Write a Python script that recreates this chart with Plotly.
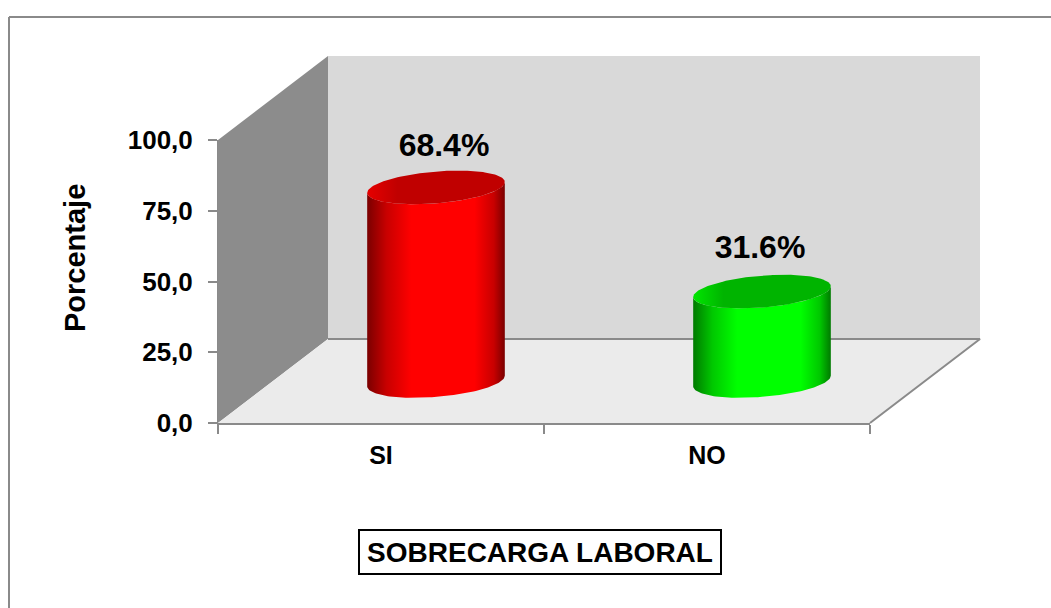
import numpy as np
import plotly.graph_objects as go

categories = ["SI", "NO"]
percent = [68.4, 31.6]
value_text = ["68.4%", "31.6%"]
y_ticks = [0, 25, 50, 75, 100]
body_colors = ["#ff0000", "#00ff00"]
edge_colors = ["#7a0000", "#007a00"]
shade_colors = ["#c80000", "#00c800"]
top_colors = ["#c00000", "#00b400"]
top_rim_colors = ["#e60000", "#00e600"]

W, H = 1051, 608
X0, X1, Y0, Y100 = 218, 870, 423, 140
PX_X = (X1 - X0) / 2.0      # pixels per category
PX_Y = (Y0 - Y100) / 100.0  # pixels per percent
DEPTH_X = 110 / PX_X        # floor depth, in axis units
DEPTH_Y = 84 / PX_Y
GREY = "#8a8a8a"
FONT = "Liberation Sans, Arial, sans-serif"


def poly(xs, ys, color=None, **kw):
    return go.Scatter(x=xs, y=ys, mode="lines", fill="toself", fillcolor=color, line=dict(width=0),
                      hoverinfo="skip", showlegend=False, **kw)


def ring(cx, cy, t):
    # circle lying on the floor plane, projected
    r_x, r_d = 0.2, 0.2
    return cx + r_x * np.cos(t) + r_d * DEPTH_X * np.sin(t), cy + r_d * DEPTH_Y * np.sin(t)


def cylinder(i, value):
    cx = i + 0.5 + 0.5 * DEPTH_X
    cy = 0.5 * DEPTH_Y
    t_right = np.arctan2(0.2 * DEPTH_X, 0.2)
    # lower half of the base from the right silhouette round to the left one, then back over the top
    t_low = np.linspace(t_right, t_right - np.pi, 80)
    t_up = np.linspace(t_right - np.pi, t_right, 80)
    xb, yb = ring(cx, cy, t_low)
    xt, yt = ring(cx, cy + value, t_up)
    body = poly(np.r_[xb, xt], np.r_[yb, yt], fillgradient=dict(type="horizontal", colorscale=[
        [0, edge_colors[i]], [0.14, shade_colors[i]], [0.32, body_colors[i]], [0.78, body_colors[i]],
        [0.92, shade_colors[i]], [1, edge_colors[i]]]))
    t = np.linspace(0, 2 * np.pi, 160)
    xc, yc = ring(cx, cy + value, t)
    top = poly(xc, yc, fillgradient=dict(type="horizontal", colorscale=[
        [0, top_rim_colors[i]], [0.22, top_colors[i]], [1, top_colors[i]]]))
    return [body, top]


fig = go.Figure()
# left wall, back wall, floor
fig.add_trace(poly([0, DEPTH_X, DEPTH_X, 0], [0, DEPTH_Y, 100 + DEPTH_Y, 100], "#8c8c8c"))
fig.add_trace(poly([DEPTH_X, 2 + DEPTH_X, 2 + DEPTH_X, DEPTH_X], [DEPTH_Y, DEPTH_Y, 100 + DEPTH_Y, 100 + DEPTH_Y], "#d9d9d9"))
fig.add_trace(poly([0, 2, 2 + DEPTH_X, DEPTH_X], [0, 0, DEPTH_Y, DEPTH_Y], "#ebebeb"))
fig.add_trace(go.Scatter(x=[DEPTH_X, 2 + DEPTH_X, 2], y=[DEPTH_Y, DEPTH_Y, 0], mode="lines",
                         line=dict(color=GREY, width=2), hoverinfo="skip", showlegend=False))

for i, v in enumerate(percent):
    fig.add_traces(cylinder(i, v))

# px, labels are not quite centred over the bars
label_dx = [8, -2]
label_dy = [39, 42]
# labels sit on the visible axes so those get drawn
fig.add_trace(go.Scatter(
    x=[i + 0.5 + 0.5 * DEPTH_X + label_dx[i] / PX_X for i in range(len(percent))],
    y=[0.5 * DEPTH_Y + v + label_dy[i] / PX_Y for i, v in enumerate(percent)],
    xaxis="x2", yaxis="y2",
    mode="text", text=value_text, textposition="middle center",
    textfont=dict(family=FONT, size=32, color="#000000", weight="bold"),
    cliponaxis=False, hoverinfo="skip", showlegend=False))

fig.update_layout(
    width=W, height=H, margin=dict(l=0, r=0, t=0, b=0, autoexpand=False), paper_bgcolor="white", plot_bgcolor="rgba(0,0,0,0)",
    separators=",.", font=dict(family=FONT, color="#000000"),
    # full-page axes for the 3D box, same scale as the visible ones
    xaxis=dict(domain=[0, 1], range=[-X0 / PX_X, (W - X0) / PX_X], visible=False),
    yaxis=dict(domain=[0, 1], range=[-(H - Y0) / PX_Y, Y0 / PX_Y], visible=False),
    xaxis2=dict(domain=[X0 / W, X1 / W], range=[0, 2], anchor="y2", tickmode="array", tickvals=[0.5, 1.5], ticktext=categories,
                ticks="", ticklen=0, ticklabelstandoff=9, showgrid=False, zeroline=False, showline=True,
                linecolor=GREY, linewidth=2, tickfont=dict(size=25, weight="bold"),
                minor=dict(tickmode="array", tickvals=[0, 1, 2], ticks="outside", ticklen=9, tickcolor=GREY, tickwidth=2, showgrid=False)),
    yaxis2=dict(domain=[(H - Y0) / H, (H - Y100) / H], range=[0, 100], anchor="x2", tickmode="array", tickvals=y_ticks,
                tickformat=".1f", ticks="outside", ticklen=9, tickcolor=GREY, tickwidth=2, showgrid=False,
                zeroline=False, showline=True, linecolor=GREY, linewidth=1, tickfont=dict(size=26, weight="bold"),
                ticklabelstandoff=10),
    shapes=[
        dict(type="line", xref="paper", yref="paper", x0=9 / W, x1=1, y0=1 - 17 / H, y1=1 - 17 / H, line=dict(color=GREY, width=2)),
        dict(type="line", xref="paper", yref="paper", x0=9 / W, x1=9 / W, y0=0, y1=1 - 17 / H, line=dict(color=GREY, width=2)),
    ],
    annotations=[
        dict(text="<b>Porcentaje</b>", xref="paper", yref="paper", x=75 / W, y=1 - 258 / H, textangle=-90, showarrow=False,
             font=dict(size=29), xanchor="center", yanchor="middle"),
        dict(text="<b>SOBRECARGA LABORAL</b>", xref="paper", yref="paper", x=540 / W, y=1 - 551.5 / H, showarrow=False,
             font=dict(size=28), width=360, height=42, bordercolor="#000000", borderwidth=2, borderpad=0,
             xanchor="center", yanchor="middle", align="center", valign="middle"),
    ],
)

fig.write_html("out.html", config=dict(displayModeBar=False), post_script="document.body.style.margin='0';")
